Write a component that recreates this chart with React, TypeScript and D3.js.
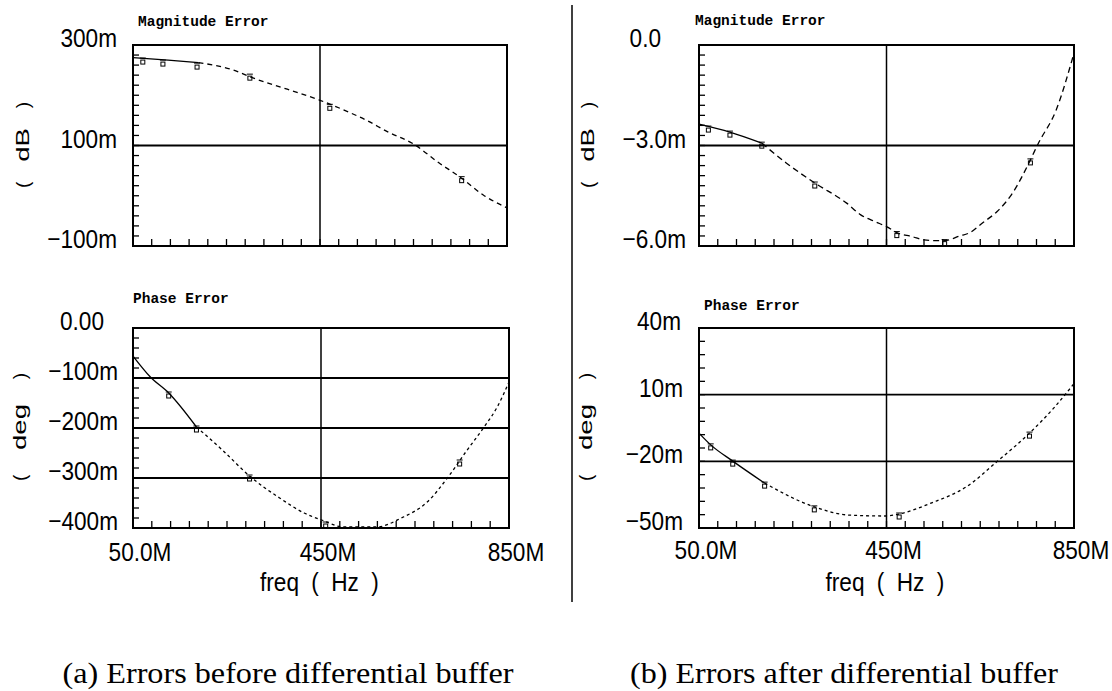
import React from 'react';
import * as d3 from 'd3';

// ---- data (freq in MHz, errors in milli-units) ----
const magBeforeFreq = [50, 125, 190, 265, 305, 380, 450, 515, 550, 595, 650, 705, 750, 800, 850];
const magBeforeVals = [275, 270, 265, 250, 235, 212, 190, 165, 150, 127, 103, 65, 37, 1, -24];
const magBeforeMarkF = [71, 114, 187, 300, 471, 753];
const magBeforeMarkV = [272, 268, 262, 240, 180, 36];

const phaseBeforeFreq = [50, 87, 126, 185, 240, 298, 362, 414, 451, 499, 568, 621, 676, 722, 758, 797, 825, 850];
const phaseBeforeVals = [-56, -98, -130, -198, -244, -296, -340, -370, -384, -398, -398, -380, -348, -296, -248, -198, -158, -108];
const phaseBeforeMarkF = [126, 185, 298, 460, 745];
const phaseBeforeMarkV = [-130, -198, -296, -390, -266];

const magAfterFreq = [50, 116, 184, 236, 297, 365, 395, 425, 450, 472, 505, 530, 552, 574, 606, 628, 654, 686, 716, 757, 773, 812, 850];
const magAfterVals = [-2.36, -2.6, -2.93, -3.52, -4.12, -4.72, -5.07, -5.27, -5.42, -5.6, -5.72, -5.82, -5.84, -5.84, -5.7, -5.6, -5.32, -4.97, -4.48, -3.43, -2.96, -1.94, -0.24];
const magAfterMarkF = [70, 116, 184, 297, 472, 574, 757];
const magAfterMarkV = [-2.45, -2.6, -2.93, -4.12, -5.6, -5.84, -3.43];

const phaseAfterFreq = [50, 75, 122, 190, 296, 371, 448, 477, 545, 620, 687, 755, 809, 850];
const phaseAfterVals = [-7.3, -12.6, -19.9, -29.8, -40.5, -44.2, -44.6, -43.7, -38.8, -31.5, -19.9, -7.3, 4.5, 15];
const phaseAfterMarkF = [75, 122, 190, 296, 477, 755];
const phaseAfterMarkV = [-12.6, -19.9, -29.8, -40.5, -43.7, -7.3];

const freqTicks = [50, 450, 850];
const freqTickLabels = ['50.0M', '450M', '850M'];
const captions = ['(a) Errors before differential buffer', '(b) Errors after differential buffer'];

type Panel = {
  x0: number; x1: number; y0: number; y1: number;
  yDomain: [number, number];
  yTicks: number[]; yLabels: string[]; labelRight: number; topShift: number;
  grid: number[]; minor: number;
  title: string; titleX: number; titleY: number;
  unit: string; unitX: number; unitY: number; unitLen: number;
  showX: boolean; xLabelY: number;
  freq: number[]; vals: number[]; solidTo: number; dash: string;
  markF: number[]; markV: number[];
};

const panels: Panel[] = [
  {
    x0: 133, x1: 507, y0: 45, y1: 246, yDomain: [-100, 300],
    yTicks: [300, 100, -100], yLabels: ['300m', '100m', '−100m'], labelRight: 117, topShift: 0,
    grid: [100], minor: 20, title: 'Magnitude Error', titleX: 138, titleY: 26,
    unit: 'dB', unitX: 21, unitY: 145, unitLen: 86, showX: false, xLabelY: 0,
    freq: magBeforeFreq, vals: magBeforeVals, solidTo: 190, dash: '5,4',
    markF: magBeforeMarkF, markV: magBeforeMarkV,
  },
  {
    x0: 133, x1: 509, y0: 328, y1: 528, yDomain: [-400, 0],
    yTicks: [0, -100, -200, -300, -400], yLabels: ['0.00', '−100m', '−200m', '−300m', '−400m'], labelRight: 118, topShift: -14,
    grid: [-100, -200, -300], minor: 20, title: 'Phase Error', titleX: 133, titleY: 303,
    unit: 'deg', unitX: 18, unitY: 427, unitLen: 108, showX: true, xLabelY: 561,
    freq: phaseBeforeFreq, vals: phaseBeforeVals, solidTo: 185, dash: '3,3',
    markF: phaseBeforeMarkF, markV: phaseBeforeMarkV,
  },
  {
    x0: 699, x1: 1074, y0: 45, y1: 246, yDomain: [-6, 0],
    yTicks: [0, -3, -6], yLabels: ['0.0', '−3.0m', '−6.0m'], labelRight: 686, topShift: -25,
    grid: [-3], minor: 20, title: 'Magnitude Error', titleX: 695, titleY: 25,
    unit: 'dB', unitX: 586, unitY: 145, unitLen: 86, showX: false, xLabelY: 0,
    freq: magAfterFreq, vals: magAfterVals, solidTo: 184, dash: '6,4',
    markF: magAfterMarkF, markV: magAfterMarkV,
  },
  {
    x0: 699, x1: 1074, y0: 328, y1: 528, yDomain: [-50, 40],
    yTicks: [40, 10, -20, -50], yLabels: ['40m', '10m', '−20m', '−50m'], labelRight: 683, topShift: -2,
    grid: [10, -20], minor: 15, title: 'Phase Error', titleX: 704, titleY: 310,
    unit: 'deg', unitX: 584, unitY: 427, unitLen: 108, showX: true, xLabelY: 559,
    freq: phaseAfterFreq, vals: phaseAfterVals, solidTo: 190, dash: '3,3',
    markF: phaseAfterMarkF, markV: phaseAfterMarkV,
  },
];

const labelFont = '"Liberation Sans", Arial, sans-serif';
const squeeze = 0.87;

// narrow plotter-style label: tall glyphs squeezed horizontally
function Narrow({ x, y, anchor, size = 26, children }: { x: number; y: number; anchor: string; size?: number; children: string }) {
  return (
    <text transform={`translate(${x},${y}) scale(${squeeze},1)`} textAnchor={anchor}
      fontFamily={labelFont} fontSize={size} fill="#000">{children}</text>
  );
}

function PlotPanel({ p }: { p: Panel }) {
  const x = d3.scaleLinear().domain([50, 850]).range([p.x0, p.x1]);
  const y = d3.scaleLinear().domain(p.yDomain).range([p.y1, p.y0]);
  const pts = p.freq.map((f, i) => [f, p.vals[i]] as [number, number]);
  const line = d3.line<[number, number]>().x(d => x(d[0])).y(d => y(d[1])).curve(d3.curveMonotoneX);
  const solid = pts.filter(d => d[0] <= p.solidTo);
  const dashed = pts.filter(d => d[0] >= p.solidTo);
  const xMinor = d3.range(0, 21).map(i => 50 + i * 40);
  const yStep = (p.yDomain[1] - p.yDomain[0]) / p.minor;
  const yMinor = d3.range(0, p.minor + 1).map(i => p.yDomain[0] + i * yStep);
  const half = p.unitLen / 2;
  const cx = x(450);

  return (
    <g>
      {xMinor.slice(1, -1).map(f => (
        <line key={'xt' + f} x1={x(f)} x2={x(f)} y1={p.y1} y2={p.y1 - 7} stroke="#000" strokeWidth={1.3} />
      ))}
      {yMinor.slice(1, -1).map((v, i) => (
        <line key={'yt' + i} x1={p.x0} x2={p.x0 + 6} y1={y(v)} y2={y(v)} stroke="#000" strokeWidth={1.3} />
      ))}
      {p.grid.map(v => (
        <line key={'g' + v} x1={p.x0} x2={p.x1} y1={y(v)} y2={y(v)} stroke="#000" strokeWidth={1.8} />
      ))}
      <line x1={cx} x2={cx} y1={p.y0} y2={p.y1} stroke="#000" strokeWidth={1.5} />
      <rect x={p.x0} y={p.y0} width={p.x1 - p.x0} height={p.y1 - p.y0} fill="none" stroke="#000" strokeWidth={2} />

      <path d={line(solid) || ''} fill="none" stroke="#000" strokeWidth={1.3} />
      <path d={line(dashed) || ''} fill="none" stroke="#000" strokeWidth={1.3} strokeDasharray={p.dash} />
      {p.markF.map((f, i) => (
        <g key={'m' + i}>
          <rect x={x(f) - 2} y={y(p.markV[i]) + 1} width={4} height={4} fill="none" stroke="#000" strokeWidth={1} />
          <line x1={x(f) - 3} x2={x(f) + 3} y1={y(p.markV[i]) - 1} y2={y(p.markV[i]) - 1} stroke="#000" strokeWidth={1} />
        </g>
      ))}

      {p.yTicks.map((v, i) => (
        <Narrow key={'yl' + v} x={p.labelRight + (i === 0 ? p.topShift : 0)} y={y(v) + 2} anchor="end">{p.yLabels[i]}</Narrow>
      ))}
      <text x={p.titleX} y={p.titleY} fontFamily='"Liberation Mono", "Courier New", monospace' fontSize={14.5}
        fontWeight="bold" fill="#000">{p.title}</text>
      <g transform={`translate(${p.unitX},${p.unitY}) rotate(-90)`} fontFamily={labelFont} fontSize={19} fill="#000">
        <text x={-half} y={8} textAnchor="start" transform="scale(1,1)">(</text>
        <text transform={`translate(0,8) scale(1.45,1)`} textAnchor="middle">{p.unit}</text>
        <text x={half} y={8} textAnchor="end">)</text>
      </g>
      {p.showX && freqTicks.map((f, i) => (
        <Narrow key={'xl' + f} x={x(f) + 7} y={p.xLabelY} anchor="middle">{freqTickLabels[i]}</Narrow>
      ))}
      {p.showX && (
        <g>
          <Narrow x={cx - 61} y={591} anchor="start">freq</Narrow>
          <Narrow x={cx - 6} y={591} anchor="middle">(</Narrow>
          <Narrow x={cx + 24} y={591} anchor="middle">Hz</Narrow>
          <Narrow x={cx + 54} y={591} anchor="middle">)</Narrow>
        </g>
      )}
    </g>
  );
}

export default function App() {
  return (
    <svg width={1112} height={691} style={{ position: 'absolute', left: 0, top: 0, background: '#fff' }}>
      <rect width={1112} height={691} fill="#fff" />
      <line x1={572} x2={572} y1={5} y2={602} stroke="#000" strokeWidth={1.5} />
      {panels.map((p, i) => <PlotPanel key={i} p={p} />)}
      <text x={288} y={683} textAnchor="middle" fontFamily='"Liberation Serif", "Times New Roman", serif' fontSize={30}
        textLength={451} lengthAdjust="spacingAndGlyphs" fill="#000">{captions[0]}</text>
      <text x={844} y={683} textAnchor="middle" fontFamily='"Liberation Serif", "Times New Roman", serif' fontSize={30}
        textLength={428} lengthAdjust="spacingAndGlyphs" fill="#000">{captions[1]}</text>
    </svg>
  );
}
